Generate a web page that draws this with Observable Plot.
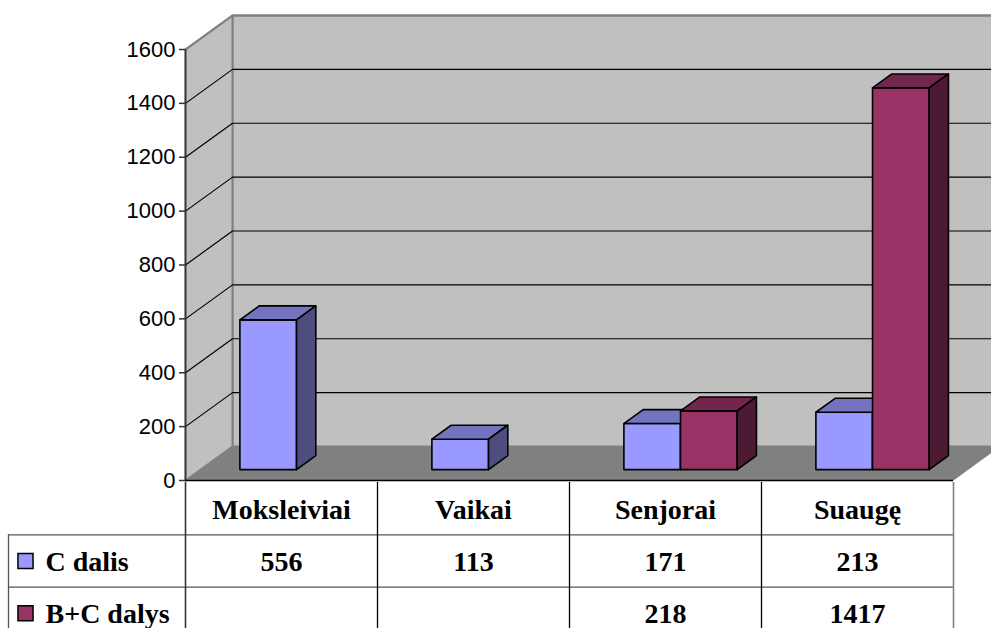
<!DOCTYPE html>
<html>
<head>
<meta charset="utf-8">
<script src="https://cdn.jsdelivr.net/npm/d3@7"></script>
<script src="https://cdn.jsdelivr.net/npm/@observablehq/plot@0.6"></script>
<style>
  html, body { margin: 0; padding: 0; background: #fff; overflow: hidden; }
  #chart svg { display: block; }
  #chart svg.main { overflow: visible; position: relative; z-index: 2; }
</style>
</head>
<body>
<div id="chart"></div>
<script>
// ---- data ----
const categories = ["Moksleiviai", "Vaikai", "Senjorai", "Suaugę"];
const seriesNames = ["C dalis", "B+C dalys"];
const cDalis = [556, 113, 171, 213];
const bcDalys = [null, null, 218, 1417];
const yTicks = [0, 200, 400, 600, 800, 1000, 1200, 1400, 1600];

// ---- styles / layout ----
const colors = {
  c:  {front: "#9999FF", top: "#7373BF", side: "#4D4D80"},
  bc: {front: "#993366", top: "#73264D", side: "#4D1A33"}
};
const W = 991;
const PX_LEFT = 185, PX_RIGHT = 953, PX_BASE = 480, PX_TOP = 49;
const yMax = yTicks[yTicks.length - 1];
const nCat = categories.length;
const unitX = (PX_RIGHT - PX_LEFT) / nCat;      // px per category
const unitY = (PX_BASE - PX_TOP) / yMax;        // px per value
const DX = 47 / unitX, DY = 34 / unitY;         // full depth vector in data units
const proj = (x, v, d) => ({x: x + d * DX, y: v + d * DY});
const poly = (id, pts) => [...pts, pts[0]].map(p => ({...p, id}));

// walls and floor
const backWall = poly("back", [proj(0, 0, 1), proj(nCat, 0, 1), proj(nCat, yMax, 1), proj(0, yMax, 1)]);
const sideWall = poly("side", [proj(0, 0, 0), proj(0, 0, 1), proj(0, yMax, 1), proj(0, yMax, 0)]);
const floor = poly("floor", [proj(0, 0, 0), proj(nCat, 0, 0), proj(nCat, 0, 1), proj(0, 0, 1)]);
const grid = yTicks.filter(v => v > 0 && v < yMax)
  .flatMap(v => [proj(0, v, 0), proj(0, v, 1), proj(nCat, v, 1)].map(p => ({...p, id: v})));
const topEdge = [proj(0, yMax, 0), proj(0, yMax, 1), proj(nCat, yMax, 1)];

// bars
const barW = 0.295, f0 = 0.32, f1 = 0.73;
function barFaces(values, s) {
  const front = [], top = [], side = [];
  values.forEach((v, i) => {
    if (v == null) return;
    const x0 = i + 0.5 - barW + s * barW, x1 = x0 + barW;
    const id = s + "-" + i;
    front.push(...poly(id, [proj(x0, 0, f0), proj(x1, 0, f0), proj(x1, v, f0), proj(x0, v, f0)]));
    top.push(...poly(id, [proj(x0, v, f0), proj(x1, v, f0), proj(x1, v, f1), proj(x0, v, f1)]));
    side.push(...poly(id, [proj(x1, 0, f0), proj(x1, 0, f1), proj(x1, v, f1), proj(x1, v, f0)]));
  });
  return {front, top, side};
}
const barsC = barFaces(cDalis, 0);
const barsBC = barFaces(bcDalys, 1);

const face = (data, fill) => Plot.line(data, {
  x: "x", y: "y", z: "id", fill, stroke: "#000", strokeWidth: 1.6, strokeLinejoin: "round"
});

const chart = Plot.plot({
  className: "main",
  width: W,
  height: 482,
  marginLeft: PX_LEFT, marginRight: 0, marginTop: 0, marginBottom: 0,
  style: {fontFamily: "Arial, 'Liberation Sans', sans-serif", background: "none", overflow: "visible"},
  x: {domain: [0, nCat], range: [PX_LEFT, PX_RIGHT], axis: null},
  y: {domain: [0, yMax], range: [PX_BASE, PX_TOP]},
  marks: [
    Plot.line(backWall, {x: "x", y: "y", z: "id", fill: "#C0C0C0", stroke: "#808080", strokeWidth: 2}),
    Plot.line(sideWall, {x: "x", y: "y", z: "id", fill: "#C0C0C0", stroke: "#808080", strokeWidth: 2}),
    Plot.line(floor, {x: "x", y: "y", z: "id", fill: "#808080", stroke: "none"}),
    Plot.line(grid, {x: "x", y: "y", z: "id", stroke: "#000", strokeWidth: 1.2}),
    Plot.line(topEdge, {x: "x", y: "y", stroke: "#808080", strokeWidth: 2}),
    face(barsC.front, colors.c.front),
    face(barsC.top, colors.c.top),
    face(barsC.side, colors.c.side),
    face(barsBC.front, colors.bc.front),
    face(barsBC.top, colors.bc.top),
    face(barsBC.side, colors.bc.side),
    Plot.ruleX([0], {y1: 0, y2: yMax, stroke: "#333", strokeWidth: 1.6}),
    Plot.ruleY([0], {x1: 0, x2: nCat, stroke: "#000", strokeWidth: 1.6}),
    Plot.axisY({ticks: yTicks, tickFormat: d => String(d), tickSize: 6, tickPadding: 4,
      fontSize: 22, label: null,
      fontFamily: "Arial, 'Liberation Sans', sans-serif", stroke: "#333", strokeWidth: 1.5})
  ]
});

// ---- data table below ----
const LEFT = (8 - PX_LEFT) / unitX;
const tableFont = "'Liberation Serif', 'Times New Roman', serif";
const txt = {fontFamily: tableFont, fontWeight: "bold", fontSize: 28, fill: "#000", dy: 1};
const bcCells = bcDalys.map((v, i) => ({i, v})).filter(d => d.v != null);

const table = Plot.plot({
  width: W,
  height: 628 - 482,
  marginLeft: 0, marginRight: 0, marginTop: 0, marginBottom: 0,
  style: {background: "none"},
  x: {domain: [0, nCat], range: [PX_LEFT, PX_RIGHT], axis: null},
  y: {domain: [0, 3], range: [0, 157], axis: null},
  marks: [
    Plot.ruleY([1, 2], {x1: LEFT, x2: nCat, stroke: "#555", strokeWidth: 1.3}),
    Plot.ruleX([LEFT], {y1: 1, y2: 3, stroke: "#555", strokeWidth: 1.3}),
    Plot.ruleX([0], {y1: 0, y2: 3, stroke: "#333", strokeWidth: 1.6}),
    Plot.ruleX(d3.range(1, nCat), {y1: 0, y2: 3, stroke: "#000", strokeWidth: 1.3}),
    Plot.ruleX([nCat], {y1: 0, y2: 3, stroke: "#808080", strokeWidth: 1.6}),
    Plot.text(categories, {x: (d, i) => i + 0.5, y: 0.5, text: d => d, ...txt}),
    Plot.text(cDalis, {x: (d, i) => i + 0.5, y: 1.5, text: d => String(d), ...txt}),
    Plot.text(bcCells, {x: d => d.i + 0.5, y: 2.5, text: d => String(d.v), ...txt}),
    Plot.dot([seriesNames[0]], {x: LEFT, y: 1.5, dx: 17, symbol: "square", r: 8.5,
      fill: colors.c.front, stroke: "#000", strokeWidth: 1.5}),
    Plot.dot([seriesNames[1]], {x: LEFT, y: 2.5, dx: 17, symbol: "square", r: 8.5,
      fill: colors.bc.front, stroke: "#000", strokeWidth: 1.5}),
    Plot.text(seriesNames, {x: LEFT, y: (d, i) => i + 1.5, dx: 37, textAnchor: "start",
      text: d => d, ...txt})
  ]
});

const root = document.getElementById("chart");
root.appendChild(chart);
root.appendChild(table);
</script>
</body>
</html>
